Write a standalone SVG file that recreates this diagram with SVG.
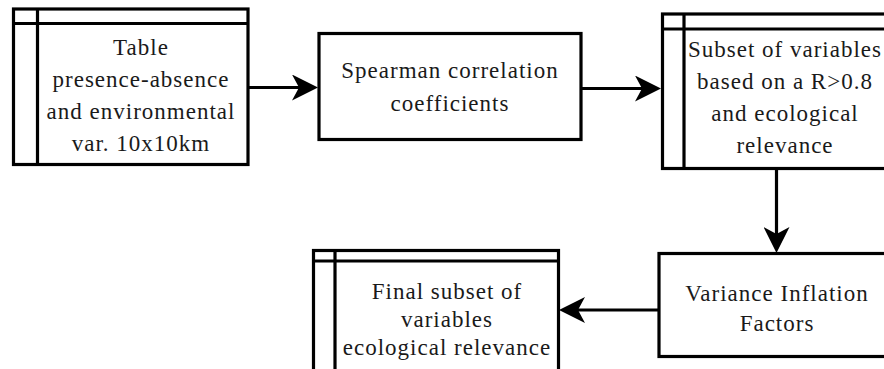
<svg xmlns="http://www.w3.org/2000/svg" width="884" height="369" viewBox="0 0 884 369">
  <style>
    .box { fill: #ffffff; stroke: #000000; stroke-width: 3.2; }
    .sep { fill: none; stroke: #000000; stroke-width: 3.2; }
    .lbl { font-family: "Liberation Serif", "Times New Roman", serif; font-size: 23px; letter-spacing: 1px; fill: #1a1a1a; text-anchor: middle; }
    .conn { fill: none; stroke: #000000; stroke-width: 3.2; }
  </style>
  <defs>
    <marker id="arrow" viewBox="0 0 26 26" refX="7" refY="13" markerWidth="26" markerHeight="26" markerUnits="userSpaceOnUse" orient="auto">
      <path d="M26,13 Q12,6 0,0 L7,13 L0,26 Q12,20 26,13 Z" fill="#000000"/>
    </marker>
  </defs>
  <rect x="0" y="0" width="884" height="369" fill="#ffffff"/>

  <g id="connectors">
    <line class="conn" x1="248" y1="87.5" x2="299" y2="87.5" marker-end="url(#arrow)"/>
    <line class="conn" x1="581" y1="88.5" x2="642" y2="88.5" marker-end="url(#arrow)"/>
    <line class="conn" x1="776.5" y1="168.5" x2="776.5" y2="234" marker-end="url(#arrow)"/>
    <line class="conn" x1="659" y1="310" x2="578" y2="310" marker-end="url(#arrow)"/>
  </g>

  <g id="node-table">
    <rect class="box" x="13.5" y="9" width="234.5" height="155.5"/>
    <line class="sep" x1="13.5" y1="23.5" x2="248" y2="23.5"/>
    <line class="sep" x1="37.5" y1="9" x2="37.5" y2="164.5"/>
    <text class="lbl" x="141" y="55">Table</text>
    <text class="lbl" x="141" y="87">presence-absence</text>
    <text class="lbl" x="141" y="119">and environmental</text>
    <text class="lbl" x="141" y="151">var. 10x10km</text>
  </g>

  <g id="node-spearman">
    <rect class="box" x="319" y="33.5" width="262" height="106"/>
    <text class="lbl" x="450" y="78">Spearman correlation</text>
    <text class="lbl" x="450" y="111">coefficients</text>
  </g>

  <g id="node-subset">
    <rect class="box" x="662.5" y="14" width="240" height="154.5"/>
    <line class="sep" x1="662.5" y1="29" x2="902.5" y2="29"/>
    <line class="sep" x1="684" y1="14" x2="684" y2="168.5"/>
    <text class="lbl" x="785" y="57">Subset of variables</text>
    <text class="lbl" x="785" y="89">based on a R&gt;0.8</text>
    <text class="lbl" x="785" y="121">and ecological</text>
    <text class="lbl" x="785" y="153">relevance</text>
  </g>

  <g id="node-vif">
    <rect class="box" x="659" y="253.5" width="240" height="103"/>
    <text class="lbl" x="777" y="301">Variance Inflation</text>
    <text class="lbl" x="777" y="331">Factors</text>
  </g>

  <g id="node-final">
    <rect class="box" x="313.5" y="250.5" width="245" height="130"/>
    <line class="sep" x1="313.5" y1="261" x2="558.5" y2="261"/>
    <line class="sep" x1="335" y1="250.5" x2="335" y2="380"/>
    <text class="lbl" x="447" y="299">Final subset of</text>
    <text class="lbl" x="447" y="327">variables</text>
    <text class="lbl" x="447" y="355">ecological relevance</text>
  </g>
</svg>
